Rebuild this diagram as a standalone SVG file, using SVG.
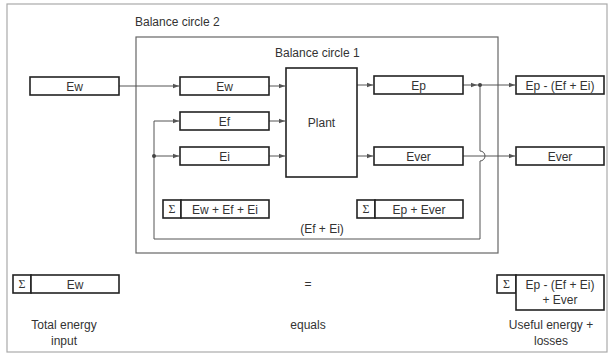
<svg xmlns="http://www.w3.org/2000/svg" width="611" height="354" viewBox="0 0 611 354">
<defs>
<style>
.t{font-family:"Liberation Sans",Arial,sans-serif;font-size:12px;fill:#333}
.c{text-anchor:middle}
.s{font-family:"Liberation Serif","Times New Roman",serif;font-size:12px;fill:#333;text-anchor:middle}
.b{fill:#fff;stroke:#222;stroke-width:1.6}
.ln{fill:none;stroke:#555;stroke-width:1}
.fr{fill:none;stroke:#666;stroke-width:1.2}
</style>
<marker id="ah" markerWidth="7" markerHeight="6" refX="6" refY="3" orient="auto" markerUnits="userSpaceOnUse">
<path d="M0,0.8 L6,3 L0,5.2 Z" fill="#555"/>
</marker>
</defs>
<rect width="611" height="354" fill="#fff"/>
<rect x="7" y="4" width="600" height="348" fill="none" stroke="#aaa" stroke-width="1.2"/>

<g id="circle2">
<rect class="fr" x="136" y="37" width="362" height="216"/>
<text class="t" x="135" y="26">Balance circle 2</text>
</g>
<text class="t" x="275" y="57">Balance circle 1</text>

<g id="connectors">
<line class="ln" x1="119" y1="86" x2="179" y2="86" marker-end="url(#ah)"/>
<line class="ln" x1="269" y1="86" x2="285" y2="86" marker-end="url(#ah)"/>
<line class="ln" x1="269" y1="121" x2="285" y2="121" marker-end="url(#ah)"/>
<line class="ln" x1="269" y1="156" x2="285" y2="156" marker-end="url(#ah)"/>
<line class="ln" x1="357" y1="85" x2="373" y2="85" marker-end="url(#ah)"/>
<line class="ln" x1="357" y1="156" x2="373" y2="156" marker-end="url(#ah)"/>
<line class="ln" x1="463" y1="85" x2="477" y2="85" marker-end="url(#ah)"/>
<line class="ln" x1="477" y1="85" x2="515" y2="85" marker-end="url(#ah)"/>
<line class="ln" x1="463" y1="156" x2="515" y2="156" marker-end="url(#ah)"/>
<path class="ln" d="M480,85 V151 A5,5 0 0 1 480,161 V239 H154 V121 H179" marker-end="url(#ah)"/>
<line class="ln" x1="154" y1="156" x2="179" y2="156" marker-end="url(#ah)"/>
<circle cx="480" cy="85" r="2" fill="#444"/>
<circle cx="154" cy="156" r="2" fill="#444"/>
</g>

<g id="ew-in">
<rect class="b" x="30" y="77" width="89" height="18"/>
<text class="t c" x="74.5" y="90.5">Ew</text>
</g>
<g id="ew">
<rect class="b" x="180" y="77" width="89" height="18"/>
<text class="t c" x="224.5" y="90.5">Ew</text>
</g>
<g id="ef">
<rect class="b" x="180" y="112" width="89" height="18"/>
<text class="t c" x="224.5" y="125.5">Ef</text>
</g>
<g id="ei">
<rect class="b" x="180" y="147" width="89" height="18"/>
<text class="t c" x="224.5" y="160.5">Ei</text>
</g>
<g id="plant">
<rect class="b" x="286" y="68" width="71" height="109"/>
<text class="t c" x="321.5" y="127">Plant</text>
</g>
<g id="ep">
<rect class="b" x="374" y="76" width="89" height="18"/>
<text class="t c" x="418.5" y="89.5">Ep</text>
</g>
<g id="ever">
<rect class="b" x="374" y="147" width="89" height="18"/>
<text class="t c" x="418.5" y="160.5">Ever</text>
</g>
<g id="useful">
<rect class="b" x="516" y="76" width="88" height="18"/>
<text class="t c" x="560" y="89.5">Ep - (Ef + Ei)</text>
</g>
<g id="ever-out">
<rect class="b" x="516" y="147" width="88" height="18"/>
<text class="t c" x="560" y="160.5">Ever</text>
</g>

<g id="sum1">
<rect class="b" x="163" y="200" width="18" height="18"/>
<text class="s" x="172" y="213">Σ</text>
<rect class="b" x="181" y="200" width="88" height="18"/>
<text class="t c" x="225" y="213.5">Ew + Ef + Ei</text>
</g>
<g id="sum2">
<rect class="b" x="357" y="200" width="18" height="18"/>
<text class="s" x="366" y="213">Σ</text>
<rect class="b" x="375" y="200" width="88" height="18"/>
<text class="t c" x="419" y="213.5">Ep + Ever</text>
</g>
<text class="t c" x="322" y="233">(Ef + Ei)</text>

<g id="total">
<rect class="b" x="13" y="275" width="18" height="18"/>
<text class="s" x="22" y="288">Σ</text>
<rect class="b" x="31" y="275" width="88" height="18"/>
<text class="t c" x="75" y="288.5">Ew</text>
<text class="t c" x="64" y="329">Total energy</text>
<text class="t c" x="64" y="345">input</text>
</g>
<g id="equals">
<text class="t c" x="308" y="288">=</text>
<text class="t c" x="308" y="329">equals</text>
</g>
<g id="output">
<rect class="b" x="497" y="275" width="19" height="18"/>
<text class="s" x="506.5" y="288">Σ</text>
<rect class="b" x="516" y="275" width="88" height="35"/>
<text class="t c" x="560" y="289">Ep - (Ef + Ei)</text>
<text class="t c" x="560" y="304">+ Ever</text>
<text class="t c" x="551" y="329">Useful energy +</text>
<text class="t c" x="551" y="345">losses</text>
</g>
</svg>
